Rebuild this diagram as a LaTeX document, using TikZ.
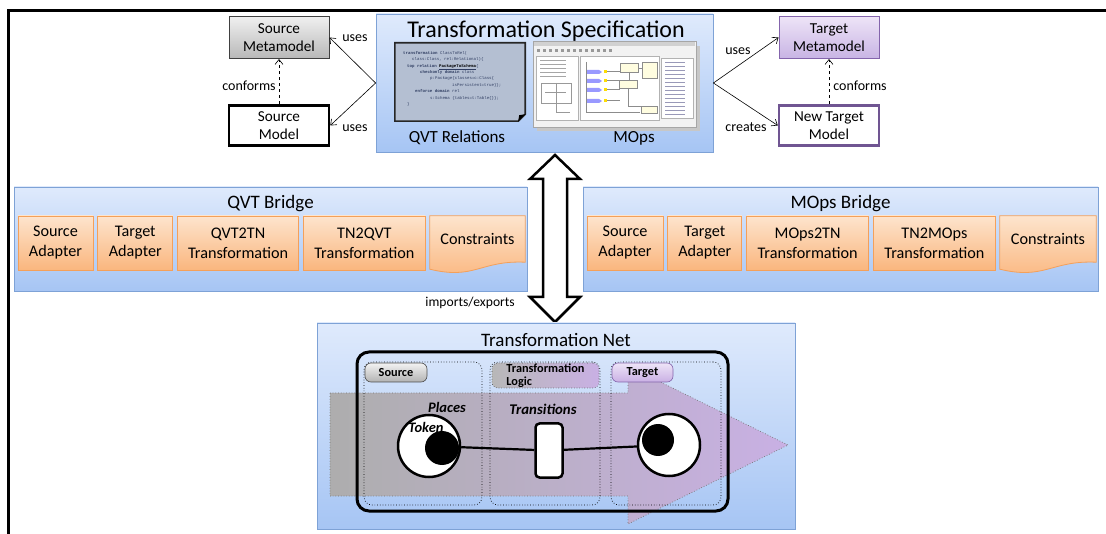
\documentclass[tikz,border=0pt]{standalone}
\usepackage{fontspec}
\setmainfont{Carlito}
\setmonofont{Liberation Mono}
\usetikzlibrary{positioning, calc, arrows.meta}
\definecolor{tnblue}{RGB}{223,234,252}
\definecolor{tnbluedark}{RGB}{166,197,244}
\definecolor{tnedge}{RGB}{126,162,214}
\definecolor{brorange}{RGB}{253,228,205}
\definecolor{brorangedark}{RGB}{250,182,126}
\definecolor{bredge}{RGB}{244,160,90}
\definecolor{mmgray}{RGB}{240,240,240}
\definecolor{mmgraydark}{RGB}{184,184,184}
\definecolor{mmpurple}{RGB}{238,228,247}
\definecolor{mmpurpledark}{RGB}{200,180,228}
\definecolor{mmedge}{RGB}{132,100,172}
\definecolor{flowpurple}{RGB}{201,176,228}
\definecolor{codebg}{RGB}{180,191,210}
\definecolor{codeink}{RGB}{48,62,98}
\newcommand{\pxfont}[2]{\fontsize{#1}{#2}\selectfont}

\begin{document}
\begin{tikzpicture}[x=1pt, y=-1pt,
  container/.style={draw=tnedge, line width=0.8pt, top color=tnblue, bottom color=tnbluedark, inner sep=0pt},
  partbox/.style={draw=bredge, line width=0.8pt, top color=brorange, bottom color=brorangedark, minimum height=54pt, inner sep=0pt, align=center, font=\pxfont{16.2}{20}},
  modelbox/.style={minimum width=100pt, minimum height=42pt, inner sep=0pt, align=center, font=\pxfont{15.2}{17.5}},
  usesarrow/.style={-{Straight Barb[length=5pt,width=8pt]}, line width=0.6pt},
  confarrow/.style={usesarrow, dashed},
  lbl/.style={font=\pxfont{14}{16}, inner sep=1pt},
  title/.style={inner sep=0pt},
  column/.style={draw, dotted, line width=0.7pt, rounded corners=8pt, inner sep=0pt},
  pill/.style={rounded corners=6pt, inner sep=0pt, line width=0.6pt, font=\bfseries\pxfont{12.3}{13}},
  place/.style={circle, draw, line width=2.5pt, fill=white, minimum size=62pt, inner sep=0pt},
  token/.style={circle, fill=black, minimum size=34pt, inner sep=0pt},
  transbox/.style={draw, line width=2.5pt, fill=white, rounded corners=4pt, minimum width=27pt, minimum height=54pt, inner sep=0pt},
  arc/.style={line width=2.2pt},
  emph/.style={inner sep=0pt, font=\bfseries\itshape\pxfont{14.5}{16}}
]
\useasboundingbox (0,0) rectangle (1106,534);
\draw[line width=3pt] (8,534) -- (8,11) -- (1106,11);

% specification with the two notations
\node[container, minimum width=337pt, minimum height=138pt] (spec) at (544.5,83) {};
\node[title, font=\pxfont{24}{26}] (spectitle) at (546,31) {Transformation Specification};

% QVT code listing
\node[minimum width=130pt, minimum height=78pt, inner sep=0pt] (qvtcode) at (460,82) {};
\filldraw[fill=codebg, draw=black!85, line width=1.6pt]
  (qvtcode.north west) -- (qvtcode.north east) -- ($(qvtcode.south east)+(0,-7)$)
  -- ($(qvtcode.south east)+(-7,0)$) -- (qvtcode.south west) -- cycle;
\fill[black] ($(qvtcode.south east)+(0,-7)$) -- ($(qvtcode.south east)+(-7,0)$) -- ($(qvtcode.south east)+(-6,-6)$) -- cycle;
\node[anchor=north west, align=left, inner sep=0pt, text=codeink, font=\ttfamily\pxfont{4.1}{6.4}] (qvttext) at (403,51)
  {\textbf{transformation} ClassToRel(\\
   \hspace*{9pt}class:Class, rel:Relational)\{\\
   \hspace*{4pt}\textbf{top relation} \underline{\textbf{\color{black}PackageToSchema}}\{\\
   \hspace*{17pt}\textbf{checkonly domain} class\\
   \hspace*{27pt}p:Package\{classes=c:Class\{\\
   \hspace*{49pt}isPersistent=true\}\};\\
   \hspace*{12pt}\textbf{enforce domain} rel\\
   \hspace*{27pt}s:Schema \{tables=t:Table\{\}\};\\
   \hspace*{4pt}\}};

% MOps editor window
\node[minimum width=163pt, minimum height=86pt, inner sep=0pt] (mopsshot) at (614.5,84) {};
\fill[black!22] (537,46) rectangle (700,131);
\draw[black!35, fill=black!5] (mopsshot.north west) rectangle (mopsshot.south east);
\fill[black!18] (534,42) rectangle (695,46);
\foreach \x in {537,543,...,609} \fill[black!40] (\x,49) rectangle ++(3,3);
\draw[black!30, fill=white] (536,56) rectangle (578,120);
\draw[black!30, fill=white] (580,56) rectangle (659,120);
\draw[black!30, fill=white] (661,58) rectangle (693,118);
\foreach \y in {60,64,...,76} \draw[black!35, line width=0.4pt] (540,\y) -- ++(26,0);
\draw[black!40, line width=0.4pt] (541,83) rectangle (571,103);
\draw[black!40, line width=0.4pt] (545,92) -- (566,92) (556,83) -- (556,112) -- (570,112);
\foreach \y in {62,66,...,114} \draw[blue!30!black!40, line width=0.4pt] (665,\y) -- ++(20,0);
\foreach \y in {70,79,88,99} {
  \fill[blue!40] (586,\y) -- ++(13,0) -- ++(3,2) -- ++(-3,2) -- ++(-13,0) -- cycle;
  \fill[yellow!80!orange] (604,\y) rectangle ++(3,3);
  \draw[black!45, line width=0.4pt] (607,\y+1.5) -- (620,\y+1.5);
}
\draw[black!45, fill=yellow!12, line width=0.4pt] (620,63) rectangle (638,72);
\draw[black!45, fill=yellow!12, line width=0.4pt] (642,62) rectangle (657,78);
\draw[black!45, fill=yellow!12, line width=0.4pt] (619,80) rectangle (637,88);
\draw[black!45, fill=yellow!12, line width=0.4pt] (641,106) rectangle (657,113);
\draw[black!45, line width=0.4pt] (586,62) -- (586,112) -- (640,112) (629,72) -- (629,80) (638,68) -- (642,68) (628,88) -- (628,106) -- (641,106);

\node[title, font=\pxfont{17}{19}] (qvtlbl) at (457,138) {QVT Relations};
\node[title, font=\pxfont{17}{19}] (mopslbl) at (634,138) {MOps};

% metamodels and models
\node[modelbox, draw=black!75, line width=1pt, top color=mmgray, bottom color=mmgraydark] (srcmm) at (279,37.5) {Source\\Metamodel};
\node[modelbox, draw=black, line width=2.5pt, fill=white, minimum height=40pt] (srcm) at (279,125.5) {Source\\Model};
\node[modelbox, draw=mmedge, line width=1pt, top color=mmpurple, bottom color=mmpurpledark] (tgtmm) at (829,37.5) {Target\\Metamodel};
\node[modelbox, draw=mmedge!85!black, line width=2.5pt, fill=white, minimum height=40pt] (tgtm) at (829,125.5) {New Target\\Model};

\coordinate (specW) at (spec.west);
\coordinate (specE) at (spec.east);
\draw[usesarrow] (specW) -- (srcmm.east);
\draw[usesarrow] (specW) -- (srcm.east);
\draw[usesarrow] (specE) -- (tgtmm.west);
\draw[usesarrow] (specE) -- (tgtm.west);
\draw[confarrow] (srcm) -- (srcmm);
\draw[confarrow] (tgtm) -- (tgtmm);
\node[lbl] (usesA) at (355,38) {uses};
\node[lbl] (usesB) at (355,128) {uses};
\node[lbl] (usesC) at (738,51) {uses};
\node[lbl] (createsD) at (746,127) {creates};
\node[lbl] (confA) at (249,86) {conforms};
\node[lbl] (confB) at (860,86) {conforms};

% exchange between specification and net
\draw[line width=2.5pt, fill=white, line join=miter]
  (555,155) -- (580,179) -- (567,179) -- (567,297) -- (580,297) -- (555,322)
  -- (530,297) -- (543,297) -- (543,179) -- (530,179) -- cycle;
\node[lbl, anchor=east, font=\pxfont{13.6}{16}] (impexp) at (516,303) {imports/exports};

% QVT bridge
\node[container, minimum width=513pt, minimum height=104pt] (qvtbr) at (270.5,239) {};
\node[title, font=\pxfont{19}{21}] (qvtbrtitle) at (270.5,204) {QVT Bridge};
\node[partbox, minimum width=75pt] (qsa) at (55.5,243) {Source\\Adapter};
\node[partbox, minimum width=75pt, right=4pt of qsa] (qta) {Target\\Adapter};
\node[partbox, minimum width=121pt, right=4pt of qta] (qtn) {QVT2TN\\Transformation};
\node[partbox, minimum width=122pt, right=4pt of qtn] (qback) {TN2QVT\\Transformation};
\node[minimum width=95pt, minimum height=54pt, inner sep=0pt, right=4pt of qback] (qcons) {};
\path[partbox] (qcons.north west) -- (qcons.north east) -- ($(qcons.south east)+(0,-8)$)
  .. controls ($(qcons.south east)+(-45,-10)$) and ($(qcons.south west)+(45,10)$) .. ($(qcons.south west)+(0,-1)$) -- cycle;
\node[title, font=\pxfont{16.2}{20}] (qconstxt) at ($(qcons.center)+(0,-4)$) {Constraints};

% MOps bridge
\node[container, minimum width=515pt, minimum height=104pt] (mopsbr) at (840.5,239) {};
\node[title, font=\pxfont{19}{21}] (mopsbrtitle) at (840.5,204) {MOps Bridge};
\node[partbox, minimum width=76pt] (msa) at (625,243) {Source\\Adapter};
\node[partbox, minimum width=74pt, right=4pt of msa] (mta) {Target\\Adapter};
\node[partbox, minimum width=122pt, right=4pt of mta] (mtn) {MOps2TN\\Transformation};
\node[partbox, minimum width=122pt, right=4pt of mtn] (mback) {TN2MOps\\Transformation};
\node[minimum width=96pt, minimum height=54pt, inner sep=0pt, right=4pt of mback] (mcons) {};
\path[partbox] (mcons.north west) -- (mcons.north east) -- ($(mcons.south east)+(0,-8)$)
  .. controls ($(mcons.south east)+(-45,-10)$) and ($(mcons.south west)+(45,10)$) .. ($(mcons.south west)+(0,-1)$) -- cycle;
\node[title, font=\pxfont{16.2}{20}] (mconstxt) at ($(mcons.center)+(0,-4)$) {Constraints};

% transformation net
\node[container, minimum width=478pt, minimum height=206pt] (tn) at (556,426) {};
\node[title, font=\pxfont{19}{21}] (tntitle) at (556,340) {Transformation Net};
\path[draw=black!55, dotted, line width=0.7pt, left color=black!32, right color=flowpurple]
  (330,393) -- (628,393) -- (628,366) -- (788,445) -- (628,524) -- (628,496) -- (330,496) -- cycle;
\node[draw, line width=3pt, rounded corners=12pt, minimum width=371pt, minimum height=159pt, inner sep=0pt] (tnframe) at (542.5,431.5) {};
\node[column, minimum width=118pt, minimum height=143pt] (colsrc) at (423,433.5) {};
\node[column, minimum width=110pt, minimum height=143pt] (collogic) at (545,433.5) {};
\node[column, minimum width=110pt, minimum height=143pt] (coltgt) at (666,433.5) {};
\node[pill, draw=black!70, top color=black!5, bottom color=black!30, minimum width=62pt, minimum height=19pt] (srcpill) at (396,372.5) {Source};
\node[pill, draw=black!70, dotted, left color=black!28, right color=flowpurple, minimum width=107pt, minimum height=25pt, align=left] (logicpill) at (545.5,375.5) {Transformation\\Logic};
\node[pill, draw=mmedge, top color=mmpurple, bottom color=flowpurple, minimum width=61pt, minimum height=19pt] (tgtpill) at (642.5,372.5) {Target};

\node[place] (srcplace) at (429,446) {};
\node[token] (srctoken) at (442,448) {};
\node[place] (tgtplace) at (669,445) {};
\node[token, minimum size=32pt] (tgttoken) at (658,440) {};
\node[transbox] (trans) at (549,450.5) {};
\draw[arc] (srcplace) -- (trans);
\draw[arc] (trans) -- (tgtplace);
\node[emph] (placeslbl) at (447,407) {Places};
\node[emph, font=\bfseries\itshape\pxfont{14.5}{16}] (tokenlbl) at (426,427) {Token};
\node[emph, font=\bfseries\itshape\pxfont{14.8}{16}] (translbl) at (543,409) {Transitions};
\end{tikzpicture}
\end{document}
